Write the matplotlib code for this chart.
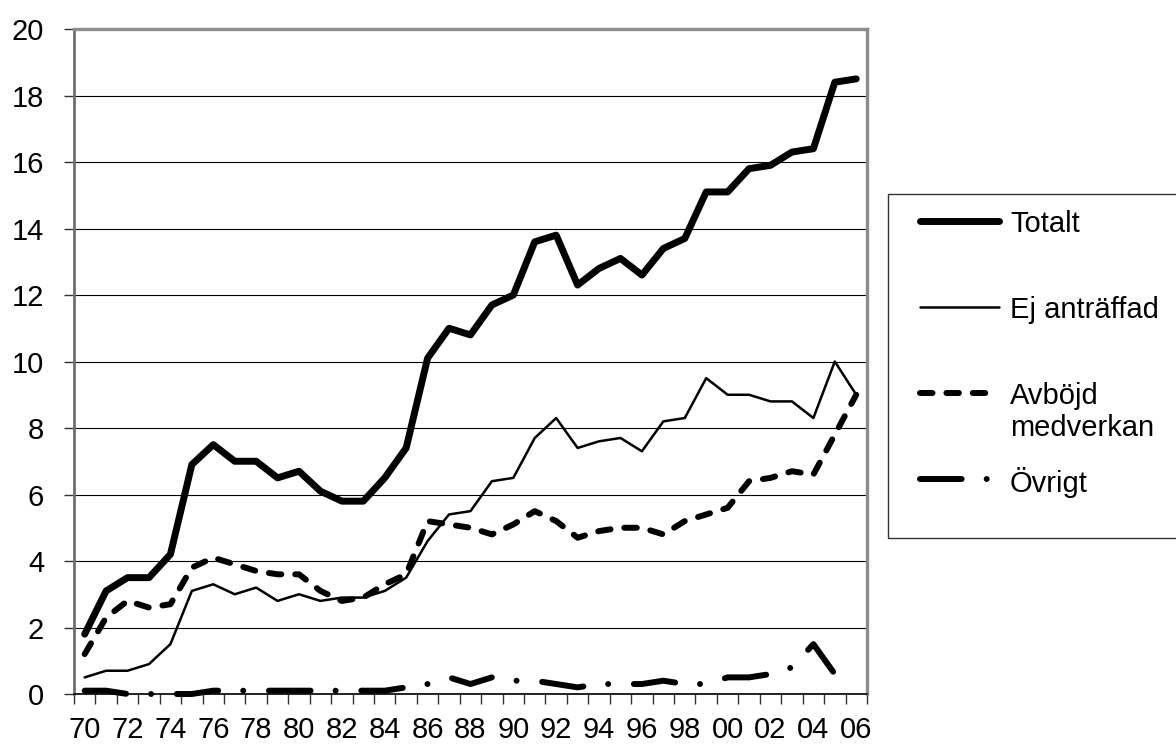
import matplotlib
matplotlib.use('Agg')
import matplotlib.pyplot as plt
from matplotlib.lines import Line2D
from matplotlib.patches import Rectangle

plt.rcParams['font.family'] = ['Liberation Sans', 'DejaVu Sans']
plt.rcParams['lines.scale_dashes'] = False

# ------ data ------
years = list(range(1970, 2007))
totalt = [1.8, 3.1, 3.5, 3.5, 4.2, 6.9, 7.5, 7.0, 7.0, 6.5,
          6.7, 6.1, 5.8, 5.8, 6.5, 7.4, 10.1, 11.0, 10.8, 11.7,
          12.0, 13.6, 13.8, 12.3, 12.8, 13.1, 12.6, 13.4, 13.7, 15.1,
          15.1, 15.8, 15.9, 16.3, 16.4, 18.4, 18.5]
ej_antraffad = [0.5, 0.7, 0.7, 0.9, 1.5, 3.1, 3.3, 3.0, 3.2, 2.8,
                3.0, 2.8, 2.9, 2.9, 3.1, 3.5, 4.6, 5.4, 5.5, 6.4,
                6.5, 7.7, 8.3, 7.4, 7.6, 7.7, 7.3, 8.2, 8.3, 9.5,
                9.0, 9.0, 8.8, 8.8, 8.3, 10.0, 9.0]
avbojd = [1.2, 2.3, 2.8, 2.6, 2.7, 3.8, 4.1, 3.9, 3.7, 3.6,
          3.6, 3.1, 2.8, 2.9, 3.3, 3.6, 5.2, 5.1, 5.0, 4.8,
          5.1, 5.5, 5.2, 4.7, 4.9, 5.0, 5.0, 4.8, 5.2, 5.4,
          5.6, 6.4, 6.5, 6.7, 6.6, 7.8, 9.0]
ovrigt = [0.1, 0.1, 0.0, 0.0, 0.0, 0.0, 0.1, 0.1, 0.1, 0.1,
          0.1, 0.1, 0.1, 0.1, 0.1, 0.2, 0.3, 0.5, 0.3, 0.5,
          0.4, 0.4, 0.3, 0.2, 0.3, 0.3, 0.3, 0.4, 0.3, 0.3,
          0.5, 0.5, 0.6, 0.8, 1.5, 0.6]
xlabels = ['70', '72', '74', '76', '78', '80', '82', '84', '86', '88',
           '90', '92', '94', '96', '98', '00', '02', '04', '06']
yticks = [0, 2, 4, 6, 8, 10, 12, 14, 16, 18, 20]

# series styles: label, data, linewidth, linestyle
series = [
    ('Totalt', totalt, 5.0, '-'),
    ('Ej anträffad', ej_antraffad, 1.8, '-'),
    ('Avböjd\nmedverkan', avbojd, 4.3, (0, (9.0, 10.0))),
    ('Övrigt', ovrigt, 4.3, (0, (30.0, 18.0, 0.01, 18.5))),
]

fig = plt.figure(figsize=(11.76, 7.44), dpi=100)
ax = fig.add_axes([0.0629, 0.0672, 0.6743, 0.8938])

for label, vals, lw, ls in series:
    ax.plot(years[:len(vals)], vals, color='black', lw=lw, ls=ls,
            solid_capstyle='round', dash_capstyle='round',
            solid_joinstyle='round', clip_on=False, zorder=3)

ax.set_xlim(years[0] - 0.5, years[-1] + 0.5)
ax.set_ylim(0, 20)
ax.set_yticks(yticks)
ax.set_yticklabels([str(v) for v in yticks])
ax.set_xticks(years[::2])
ax.set_xticklabels(xlabels)
ax.set_xticks([y - 0.5 for y in years] + [years[-1] + 0.5], minor=True)

ax.grid(axis='y', color='black', lw=0.8, zorder=1)
ax.set_axisbelow(True)

ax.tick_params(axis='y', which='major', direction='out', length=7.5,
               width=1.0, color='#333333', labelsize=21, pad=14)
ax.tick_params(axis='x', which='major', length=0, labelsize=21, pad=16)
ax.tick_params(axis='x', which='minor', direction='out', length=7.5,
               width=1.0, color='#333333')

for side in ['top', 'right']:
    ax.spines[side].set_color('#8c8c8c')
    ax.spines[side].set_linewidth(2.4)
ax.spines['left'].set_color('#6e6e6e')
ax.spines['left'].set_linewidth(2.0)
ax.spines['bottom'].set_color('#222222')
ax.spines['bottom'].set_linewidth(1.4)

# legend, drawn in the style of the original box
fig.add_artist(Rectangle((0.755, 0.2769), 0.3, 0.4623,
                         transform=fig.transFigure, facecolor='white',
                         edgecolor='#333333', lw=1.0, zorder=5))
x0, x1, xt = 920 / 1176, 999 / 1176, 1010 / 1176
for i, (label, vals, lw, ls) in enumerate(series):
    yy = 1 - (221 + 86 * i) / 744
    fig.add_artist(Line2D([x0, x1], [yy, yy], transform=fig.transFigure,
                          color='black', lw=lw, ls=ls,
                          solid_capstyle='round', dash_capstyle='round',
                          zorder=6))
    for k, part in enumerate(label.split('\n')):
        fig.text(xt, yy - k * 32 / 744, part, fontsize=21,
                 va='center_baseline', ha='left', zorder=6)

fig.savefig('out.png', dpi=100)
